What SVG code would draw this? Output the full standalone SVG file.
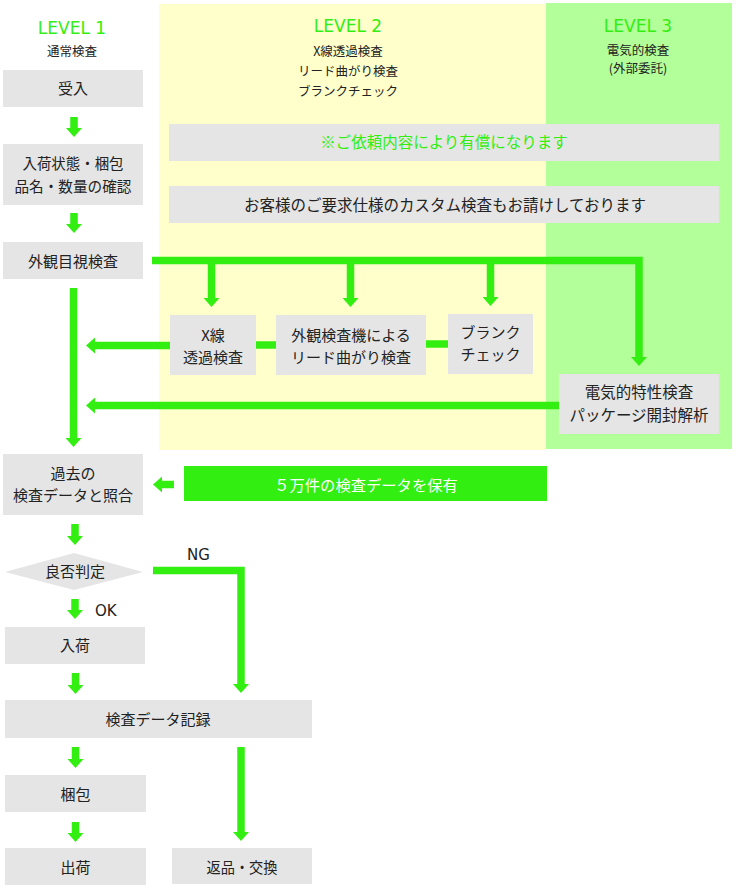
<svg xmlns="http://www.w3.org/2000/svg" width="733" height="887" viewBox="0 0 733 887">
<style>
.box{fill:#e5e5e5}
.t{font-family:"Noto Sans CJK JP","Noto Sans",sans-serif;font-size:15px;fill:#222;text-anchor:middle}
.s{font-size:12.5px}
.lv{font-family:"DejaVu Sans",sans-serif;font-size:17px;fill:#33ee11;text-anchor:middle}
.lat{font-family:"DejaVu Sans",sans-serif;font-size:15px;fill:#222}
.ln{fill:none;stroke:#33ee11;stroke-width:7.5;stroke-linejoin:miter;marker-end:url(#ah)}
.nl{fill:none;stroke:#33ee11;stroke-width:7.5;stroke-linejoin:miter}
</style>
<defs>
<marker id="ah" markerUnits="userSpaceOnUse" markerWidth="9" markerHeight="16" refX="0" refY="8" orient="auto" viewBox="0 0 9 16">
<path d="M0,0 L9,8 L0,16Z" fill="#33ee11"/>
</marker>
</defs>
<rect width="733" height="887" fill="#ffffff"/>
<g id="background">
<rect x="159" y="4" width="387" height="446" fill="#ffffcc"/>
<rect x="546" y="3" width="186" height="446" fill="#b3ff99"/>
</g>
<g id="headers">
<text class="lv" x="72" y="34">LEVEL 1</text>
<text class="t s" x="72" y="56">通常検査</text>
<text class="lv" x="348" y="32">LEVEL 2</text>
<text class="t s" x="348" y="56">X線透過検査</text>
<text class="t s" x="348" y="76">リード曲がり検査</text>
<text class="t s" x="348" y="96">ブランクチェック</text>
<text class="lv" x="638" y="32">LEVEL 3</text>
<text class="t s" x="638" y="54.5">電気的検査</text>
<text class="t s" x="638" y="73">(外部委託)</text>
</g>
<g id="note1">
<rect class="box" x="169" y="124" width="550" height="37"/>
<text class="t" x="444" y="148" style="fill:#33ee11;font-size:15.5px">※ご依頼内容により有償になります</text>
</g>
<g id="note2">
<rect class="box" x="169" y="186" width="550" height="37"/>
<text class="t" x="445" y="211" style="font-size:15.5px">お客様のご要求仕様のカスタム検査もお請けしております</text>
</g>
<g id="connectors">
<path class="ln" d="M74 117V128"/>
<path class="ln" d="M74 213V224"/>
<path class="ln" d="M73.5 288V438"/>
<path class="ln" d="M152 260.5H639V357"/>
<path class="ln" d="M211.5 260.5V298"/>
<path class="ln" d="M350.5 260.5V298"/>
<path class="ln" d="M490.5 260.5V297"/>
<path class="ln" d="M170 345.5H95"/>
<path class="nl" d="M256 345H276"/>
<path class="nl" d="M426 344H448"/>
<path class="ln" d="M559 405.5H95"/>
<path class="ln" d="M174 484.5H162"/>
<path class="ln" d="M75 524V536"/>
<path class="ln" d="M153 570.5H241V684"/>
<path class="ln" d="M75 599V610"/>
<path class="ln" d="M75.5 673V685"/>
<path class="ln" d="M75.5 747V759"/>
<path class="ln" d="M75.5 822V833"/>
<path class="ln" d="M241 747V832"/>
</g>
<g id="n-ukeire">
<rect class="box" x="3" y="70" width="140" height="37"/>
<text class="t" x="73" y="94">受入</text>
</g>
<g id="n-kakunin">
<rect class="box" x="3" y="144" width="140" height="61"/>
<text class="t" x="73" y="169" textLength="101" lengthAdjust="spacingAndGlyphs">入荷状態・梱包</text>
<text class="t" x="73" y="192" textLength="117" lengthAdjust="spacingAndGlyphs">品名・数量の確認</text>
</g>
<g id="n-gaikan">
<rect class="box" x="3" y="242" width="140" height="37"/>
<text class="t" x="73" y="267">外観目視検査</text>
</g>
<g id="n-xray">
<rect class="box" x="170" y="315" width="86" height="60"/>
<text class="t" x="213" y="341">X線</text>
<text class="t" x="213" y="363">透過検査</text>
</g>
<g id="n-lead">
<rect class="box" x="276" y="315" width="150" height="60"/>
<text class="t" x="351" y="341">外観検査機による</text>
<text class="t" x="351" y="363">リード曲がり検査</text>
</g>
<g id="n-blank">
<rect class="box" x="448" y="314" width="85" height="60"/>
<text class="t" x="490.5" y="338">ブランク</text>
<text class="t" x="490.5" y="360">チェック</text>
</g>
<g id="n-denki">
<rect class="box" x="559" y="374" width="160" height="60"/>
<text class="t" x="639" y="398" style="font-size:15.5px">電気的特性検査</text>
<text class="t" x="639" y="421" style="font-size:15.5px">パッケージ開封解析</text>
</g>
<g id="n-kako">
<rect class="box" x="3" y="454" width="140" height="61"/>
<text class="t" x="73" y="479">過去の</text>
<text class="t" x="73" y="501">検査データと照合</text>
</g>
<g id="n-data">
<rect x="184" y="466" width="363" height="35" fill="#33ee11"/>
<text class="t" x="366" y="491" style="fill:#ffffff;font-size:15.3px">５万件の検査データを保有</text>
</g>
<g id="n-ryohi">
<polygon class="box" points="5,572 74,553 143,572 74,590"/>
<text class="t" x="75" y="577">良否判定</text>
</g>
<g id="labels">
<text class="lat" x="187" y="560">NG</text>
<text class="lat" x="95" y="616">OK</text>
</g>
<g id="n-nyuka">
<rect class="box" x="5" y="627" width="140" height="37"/>
<text class="t" x="75" y="651">入荷</text>
</g>
<g id="n-kiroku">
<rect class="box" x="5" y="700" width="307" height="38"/>
<text class="t" x="158" y="725">検査データ記録</text>
</g>
<g id="n-konpo">
<rect class="box" x="5" y="775" width="141" height="37"/>
<text class="t" x="75.5" y="800">梱包</text>
</g>
<g id="n-shukka">
<rect class="box" x="5" y="848" width="141" height="37"/>
<text class="t" x="75.5" y="873">出荷</text>
</g>
<g id="n-henpin">
<rect class="box" x="172" y="848" width="140" height="36"/>
<text class="t" x="242" y="873" textLength="71" lengthAdjust="spacingAndGlyphs">返品・交換</text>
</g>
</svg>
